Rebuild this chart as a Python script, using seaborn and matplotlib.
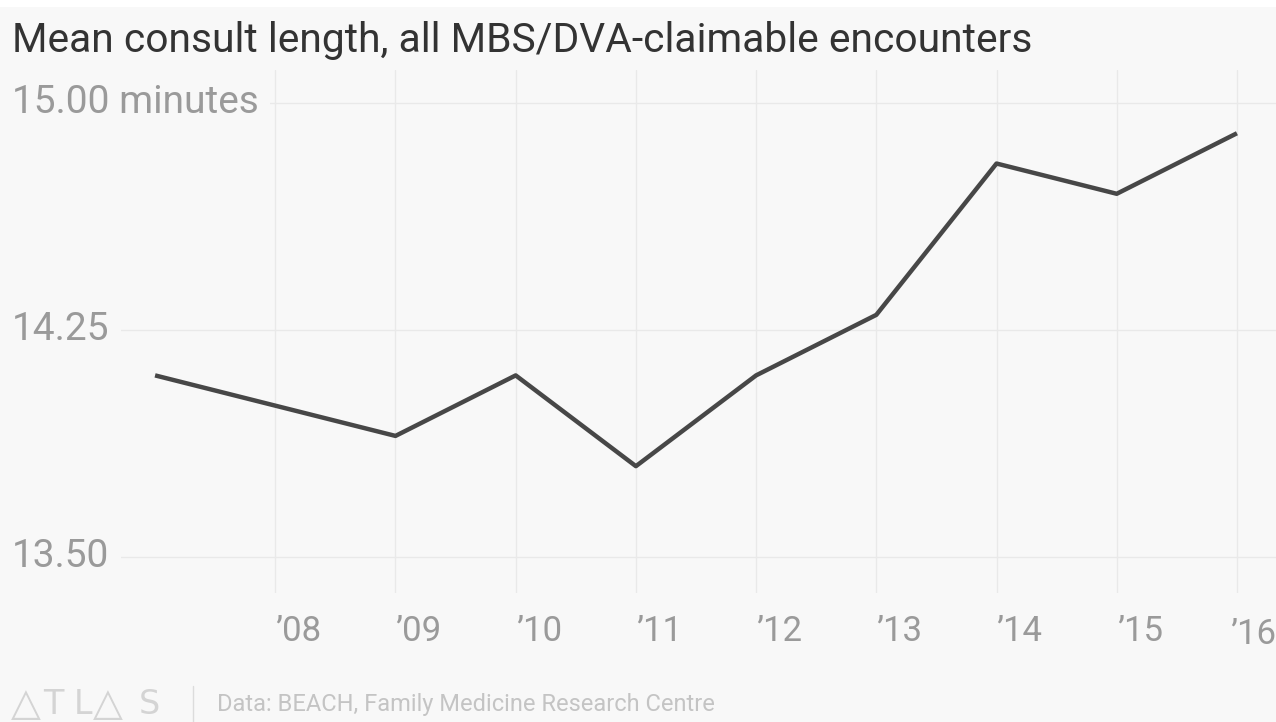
import matplotlib
matplotlib.use("Agg")
import matplotlib.pyplot as plt
import matplotlib.transforms as mtransforms
from matplotlib.lines import Line2D
from matplotlib.patches import Rectangle
import seaborn as sns
import pandas as pd

# Mean consult length (minutes) by year
years = [2007, 2008, 2009, 2010, 2011, 2012, 2013, 2014, 2015, 2016]
minutes = [14.10, 14.00, 13.90, 14.10, 13.80, 14.10, 14.30, 14.80, 14.70, 14.90]

tick_years = [2008, 2009, 2010, 2011, 2012, 2013, 2014, 2015, 2016]
tick_labels = ["\u201908", "\u201909", "\u201910", "\u201911", "\u201912",
               "\u201913", "\u201914", "\u201915", "\u201916"]
y_ticks = [13.50, 14.25, 15.00]
y_labels = ["13.50", "14.25", "15.00 minutes"]

title = "Mean consult length, all MBS/DVA-claimable encounters"
source = "Data: BEACH, Family Medicine Research Centre"
brand = ["\u25b3", "T", "L", "\u25b3", "S"]

BG = "#f8f8f8"
GRID = "#e9e9e9"
LABEL = "#9a9a9a"
TICK_SIZE = 25

sns.set_theme(style="white")
plt.rcParams["font.family"] = ["Roboto", "DejaVu Sans"]

W, H = 1276, 722
fig = plt.figure(figsize=(W / 100, H / 100), dpi=100, facecolor=BG)
fig.patches.append(Rectangle((0, 1 - 7 / H), 1, 7 / H, transform=fig.transFigure,
                             facecolor="white", edgecolor="none", zorder=-1))

ax_top, ax_bot = 70, 593
ax = fig.add_axes([0, 1 - ax_bot / H, 1, (ax_bot - ax_top) / H])
ax.set_facecolor(BG)

df = pd.DataFrame({"year": years, "minutes": minutes})
sns.lineplot(data=df, x="year", y="minutes", ax=ax, color="#474747",
             linewidth=3.2, solid_capstyle="butt", zorder=5)

ax.set_xlim(2005.71, 2016.325)
ax.set_ylim(13.381, 15.109)
for s in ax.spines.values():
    s.set_visible(False)

# vertical gridlines at each year tick; labels sit just right of their line
ax.set_xticks(tick_years)
ax.set_xticklabels(tick_labels[:-1] + [""])
ax.tick_params(axis="x", length=0, pad=16, labelsize=TICK_SIZE, labelcolor=LABEL)
for lab in ax.get_xticklabels():
    lab.set_horizontalalignment("left")
ax.xaxis.grid(True, color=GRID, linewidth=1)

# the last year label is kept flush with the right edge so it is not cut
xtrans = mtransforms.blended_transform_factory(ax.transAxes, ax.transAxes)
ax.text(1.0, 0, tick_labels[-1], transform=xtrans
        + mtransforms.ScaledTranslation(0, -(16 + 2) / 72, fig.dpi_scale_trans),
        ha="right", va="top", fontsize=TICK_SIZE, color=LABEL, clip_on=False)

# horizontal gridlines with labels sitting on top at the left
ax.set_yticks([])
for v in y_ticks:
    ax.axhline(v, color=GRID, linewidth=1, zorder=1)
trans = mtransforms.blended_transform_factory(ax.transAxes, ax.transData)
for v, lab in zip(y_ticks, y_labels):
    ax.text(12 / W, v, lab, transform=trans, ha="left", va="center",
            fontsize=28, color=LABEL, zorder=3,
            bbox=dict(boxstyle="square,pad=0.3", facecolor=BG, edgecolor="none"))
ax.set_xlabel("")
ax.set_ylabel("")

fig.text(12 / W, 1 - 41 / H, title, ha="left", va="center",
         fontsize=29.3, color="#333333")

# footer
brand_x = [11, 43, 74, 93, 139]
brand_size = [28, 24, 24, 28, 24]
for ch, px, fs in zip(brand, brand_x, brand_size):
    fig.text(px / W, 1 - 704 / H, ch, ha="left", va="center",
             fontsize=fs, color="#d4d4d4", family=["DejaVu Sans"])
fig.add_artist(Line2D([193 / W, 193 / W], [0, 1 - 686 / H],
                      transform=fig.transFigure, color="#dcdcdc", linewidth=1))
fig.text(217 / W, 1 - 705 / H, source, ha="left", va="center",
         fontsize=17, color="#c4c4c4")

fig.savefig("out.png", dpi=100, facecolor=BG)
